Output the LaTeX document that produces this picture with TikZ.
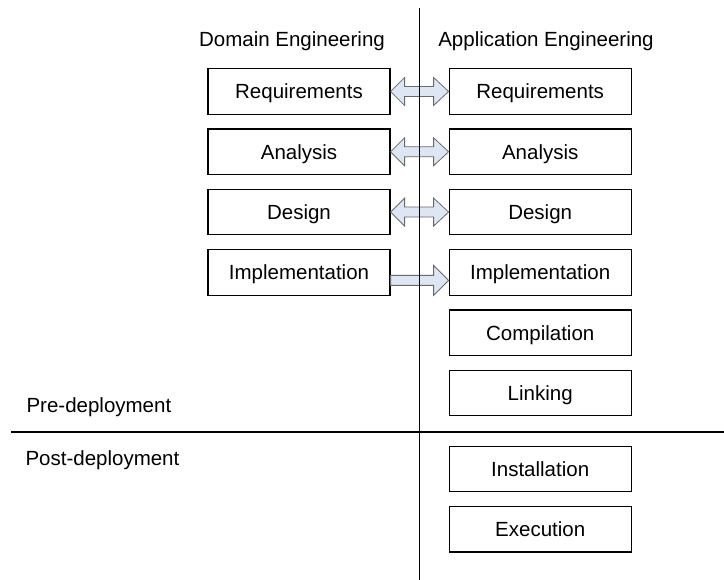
\documentclass[tikz,border=0pt]{standalone}
\usepackage{fontspec}
\setmainfont{Liberation Sans}
\usetikzlibrary{positioning,calc}
\definecolor{arrowfill}{RGB}{221,230,242}
\definecolor{arrowline}{RGB}{105,105,105}

\tikzset{
  phase/.style={draw, line width=1.2pt, minimum width=182pt, minimum height=45.5pt,
    inner sep=0pt, text height=18pt, text depth=3.3pt},
  heading/.style={anchor=base},
  stage/.style={anchor=base west},
  divider/.style={line width=1.2pt},
  blockarrow/.style={draw=arrowline, fill=arrowfill, line width=0.8pt, line join=miter}
}

% block arrows between two boxes
\newcommand{\twoway}[2]{%
  \draw[blockarrow] (#1.east) -- ++(14,-14) -- ++(0,9) -- ($(#2.west)+(-15,-5)$)
    -- ++(0,-9) -- (#2.west) -- ++(-15,14) -- ++(0,-9) -- ($(#1.east)+(14,5)$)
    -- ++(0,9) -- cycle;}
\newcommand{\oneway}[2]{%
  \draw[blockarrow] ($(#1.east)+(0,3)$) -- ($(#2.west)+(-15,3)$) -- ++(0,-10)
    -- ($(#2.west)+(0,8)$) -- ++(-15,15) -- ++(0,-10) -- ($(#1.east)+(0,13)$) -- cycle;}

\begin{document}
\begin{tikzpicture}[x=1pt, y=-1pt, font=\fontsize{20.5}{24}\selectfont]
    \useasboundingbox (0,0) rectangle (724,580);
    \node[heading] (dom) at (292,47) {Domain Engineering};
    \node[heading] (app) at (546,47) {Application Engineering};
    % domain side
    \node[phase] (dreq) at (299,91.5) {Requirements};
    \node[phase, below=13.6pt of dreq] (dana) {Analysis};
    \node[phase, below=13.6pt of dana] (ddes) {Design};
    \node[phase, below=13.6pt of ddes] (dimp) {Implementation};
    % application side
    \node[phase, right=58pt of dreq] (areq) {Requirements};
    \node[phase, right=58pt of dana] (aana) {Analysis};
    \node[phase, right=58pt of ddes] (ades) {Design};
    \node[phase, right=58pt of dimp] (aimp) {Implementation};
    \node[phase, below=13.6pt of aimp] (acomp) {Compilation};
    \node[phase, below=13.6pt of acomp] (alink) {Linking};
    \node[phase, below=29.3pt of alink] (ainst) {Installation};
    \node[phase, below=13.6pt of ainst] (aexec) {Execution};
    \twoway{dreq}{areq}
    \twoway{dana}{aana}
    \twoway{ddes}{ades}
    \oneway{dimp}{aimp}
    % dividing lines
    \coordinate (vtop) at (419.5,8);
    \coordinate (vbot) at (419.5,580);
    \coordinate (hleft) at (11,432);
    \coordinate (hright) at (724,432);
    \draw[divider] (vtop) -- (vbot);
    \draw[divider] (hleft) -- (hright);
    \node[stage] (pre) at (23,413) {Pre-deployment};
    \node[stage] (post) at (22,465) {Post-deployment};
\end{tikzpicture}
\end{document}
